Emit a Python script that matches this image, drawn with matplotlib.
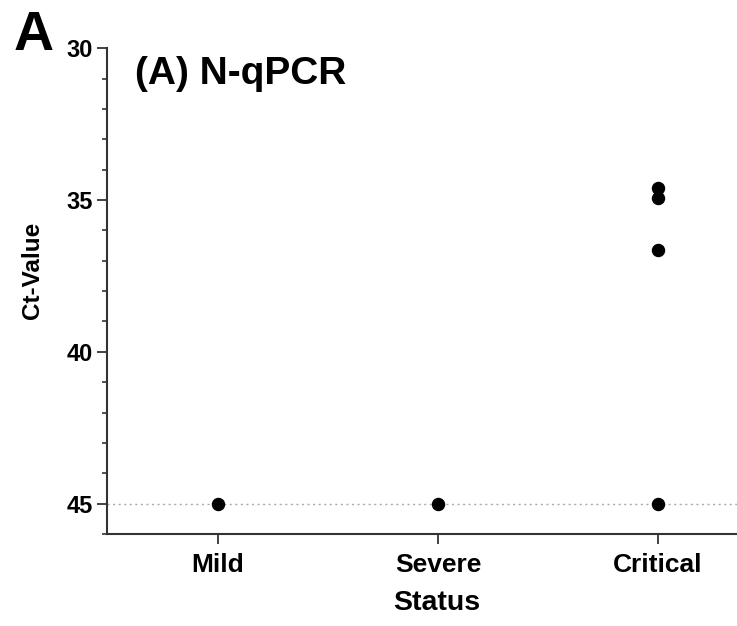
import numpy as np
import matplotlib.pyplot as plt

plt.rcParams['font.family'] = ['Liberation Sans', 'DejaVu Sans']

categories = ["Mild", "Severe", "Critical"]
# Ct-values per group (45 = not detected)
mild = [45]
severe = [45]
critical = [34.6, 34.95, 36.65, 45]

fig = plt.figure(figsize=(7.37, 6.26), dpi=100)
ax = fig.add_axes([0.1452, 0.147, 0.8548, 0.776])

groups = [mild, severe, critical]
for i, vals in enumerate(groups):
    ax.scatter([i] * len(vals), vals, s=75, color="black", zorder=3)

ax.axhline(45, color="#aaaaaa", linestyle=(0, (1.5, 2.5)), linewidth=1, zorder=1)

ax.set_xlim(-0.505, 2.36)
ax.set_ylim(46, 30)
ax.set_yticks([30, 35, 40, 45])
ax.set_yticks(np.arange(30, 47, 1), minor=True)
ax.set_xticks(range(len(categories)))
ax.set_xticklabels(categories, fontsize=19, fontweight="bold")
ax.tick_params(axis="y", labelsize=17, width=1.3, length=7, color="#333333", pad=3)
ax.tick_params(axis="y", which="minor", width=1.2, length=3.6, color="#333333")
for lab in ax.get_yticklabels():
    lab.set_fontweight("bold")
ax.tick_params(axis="x", width=1.3, length=7, color="#333333", pad=7)

ax.spines["top"].set_visible(False)
ax.spines["right"].set_visible(False)
for s in ["left", "bottom"]:
    ax.spines[s].set_linewidth(1.5)
    ax.spines[s].set_color("#333333")

ax.set_xlabel("Status", fontsize=20.5, fontweight="bold")
ax.set_ylabel("Ct-Value", fontsize=17.5, fontweight="bold")
ax.xaxis.set_label_coords(0.523, -0.115)
ax.yaxis.set_label_coords(-0.1, 0.543)

fig.text(0.183, 0.882, "(A) N-qPCR", fontsize=28, fontweight="bold", va="center")
fig.text(0.018, 0.943, "A", fontsize=40, fontweight="bold", va="center")

fig.savefig("out.png", dpi=100)
